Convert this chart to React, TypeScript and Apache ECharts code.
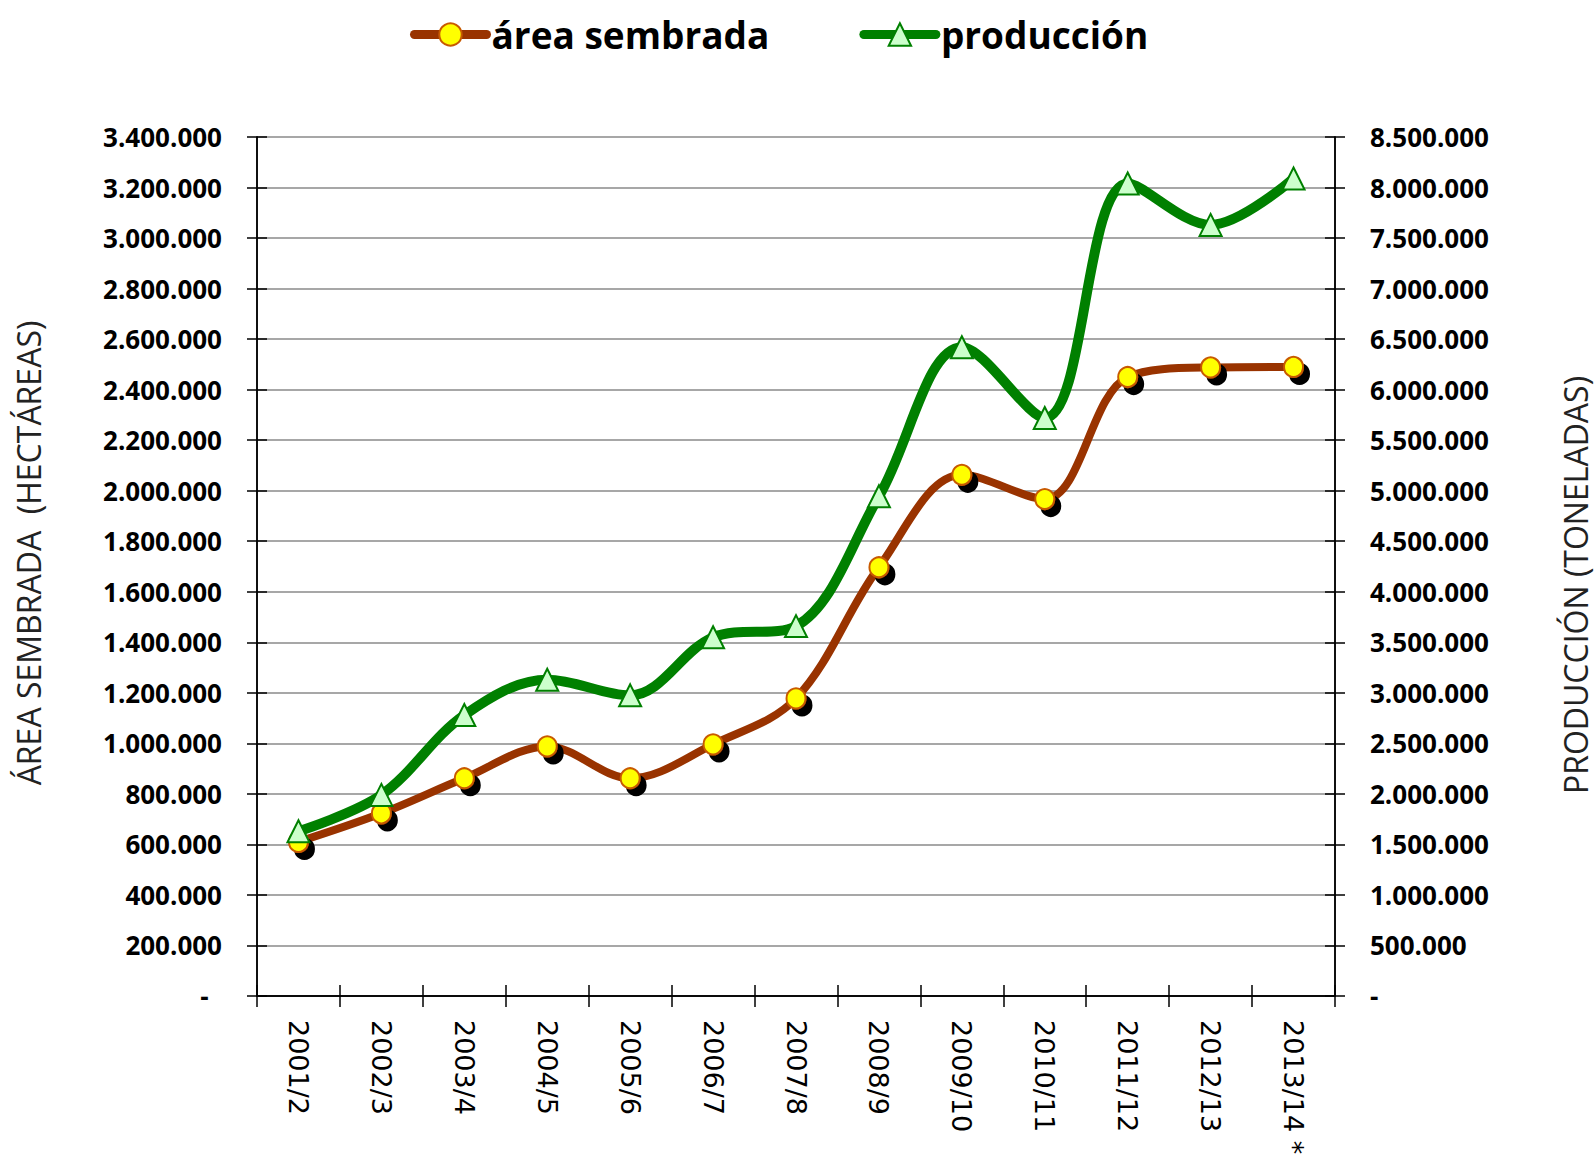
import React, { useEffect, useRef } from "react";
import * as echarts from "echarts";

const categories = ["2001/2", "2002/3", "2003/4", "2004/5", "2005/6", "2006/7", "2007/8", "2008/9", "2009/10", "2010/11", "2011/12", "2012/13", "2013/14 *"];
const areaSembrada = [610000, 723000, 862000, 988000, 862000, 996000, 1178000, 1697000, 2063000, 1967000, 2450000, 2488000, 2490000];
const produccion = [1630000, 1990000, 2780000, 3130000, 2975000, 3550000, 3660000, 4945000, 6420000, 5720000, 8040000, 7630000, 8090000];
const seriesNames = ["área sembrada", "producción"];
const leftTitle = "ÁREA SEMBRADA  (HECTÁREAS)";
const rightTitle = "PRODUCCIÓN (TONELADAS)";

const fmt = (v: number) => (v === 0 ? "-" : String(v).replace(/\B(?=(\d{3})+(?!\d))/g, "."));

export default function App() {
  const ref = useRef<HTMLDivElement>(null);
  useEffect(() => {
    if (!ref.current) return;
    const chart = echarts.init(ref.current, undefined, { renderer: "svg" });
    const tickFont = { fontFamily: "Open Sans", fontWeight: "bold" as const, fontSize: 26, color: "#000" };
    const baseY = (side: "left" | "right", max: number, interval: number) => ({
      type: "value" as const,
      position: side,
      min: 0,
      max,
      interval,
      axisLine: { show: true, lineStyle: { color: "#000", width: 1.5 } },
    });
    chart.setOption({
      animation: false,
      backgroundColor: "#fff",
      legend: {
        left: 405,
        top: 11,
        itemWidth: 72,
        itemHeight: 28,
        itemGap: 90,
        textStyle: { fontFamily: "Open Sans", fontWeight: "bold", fontSize: 37, color: "#000" },
        data: [
          { name: seriesNames[0], lineStyle: { width: 9, cap: "round" } },
          { name: seriesNames[1], lineStyle: { width: 9, cap: "round" } },
        ],
      },
      grid: { left: 257, right: 261, top: 137, bottom: 164, containLabel: false },
      xAxis: [
        {
          type: "category",
          data: categories,
          boundaryGap: true,
          axisLine: { show: true, lineStyle: { color: "#000", width: 1.5 } },
          axisTick: { show: true, length: 11, lineStyle: { color: "#000", width: 1.5 } },
          axisLabel: { rotate: -90, margin: 24, fontFamily: "DejaVu Sans", fontSize: 27, color: "#000", interval: 0 },
        },
        {
          type: "category",
          data: categories,
          position: "bottom",
          boundaryGap: true,
          axisLine: { show: true, lineStyle: { color: "#000", width: 1.5 } },
          axisTick: { show: true, inside: true, length: 11, lineStyle: { color: "#000", width: 1.5 } },
          axisLabel: { show: false },
        },
      ],
      yAxis: [
        {
          ...baseY("left", 3400000, 200000),
          axisTick: { show: true, length: 10, lineStyle: { color: "#000", width: 1.5 } },
          splitLine: { show: true, lineStyle: { color: "#8a8a8a", width: 1.5 } },
          axisLabel: { ...tickFont, margin: 35, formatter: (v: number) => (v === 0 ? "-  " : fmt(v)) },
        },
        {
          ...baseY("right", 8500000, 500000),
          axisTick: { show: true, length: 10, lineStyle: { color: "#000", width: 1.5 } },
          splitLine: { show: false },
          axisLabel: { ...tickFont, margin: 35, formatter: fmt },
        },
        {
          ...baseY("left", 3400000, 200000),
          axisTick: { show: true, inside: true, length: 10, lineStyle: { color: "#000", width: 1.5 } },
          splitLine: { show: false },
          axisLabel: { show: false },
        },
        {
          ...baseY("right", 8500000, 500000),
          axisTick: { show: true, inside: true, length: 10, lineStyle: { color: "#000", width: 1.5 } },
          splitLine: { show: false },
          axisLabel: { show: false },
        },
      ],
      graphic: [
        {
          type: "text",
          x: 28,
          y: 553,
          rotation: Math.PI / 2,
          style: { text: leftTitle, fontFamily: "Open Sans", fontSize: 32, fill: "#222", align: "center", verticalAlign: "middle" },
        },
        {
          type: "text",
          x: 1575,
          y: 585,
          rotation: Math.PI / 2,
          style: { text: rightTitle, fontFamily: "Open Sans", fontSize: 32, fill: "#222", align: "center", verticalAlign: "middle" },
        },
      ],
      series: [
        {
          name: seriesNames[0],
          type: "line",
          yAxisIndex: 0,
          data: areaSembrada,
          smooth: 0.35,
          symbol: "circle",
          symbolSize: [19, 20],
          lineStyle: { color: "#993300", width: 8 },
          itemStyle: {
            color: "#FFFF00",
            borderColor: "#C85A00",
            borderWidth: 2,
            shadowColor: "#000",
            shadowBlur: 1,
            shadowOffsetX: 6,
            shadowOffsetY: 7,
          },
          z: 2,
        },
        {
          name: seriesNames[1],
          type: "line",
          yAxisIndex: 1,
          data: produccion,
          smooth: 0.35,
          symbol: "triangle",
          symbolSize: [22, 22],
          lineStyle: { color: "#008000", width: 10 },
          itemStyle: { color: "#CCFFCC", borderColor: "#008000", borderWidth: 2 },
          z: 3,
        },
      ],
    });
    return () => chart.dispose();
  }, []);
  return <div ref={ref} style={{ position: "absolute", left: 0, top: 0, width: 1596, height: 1160 }} />;
}
